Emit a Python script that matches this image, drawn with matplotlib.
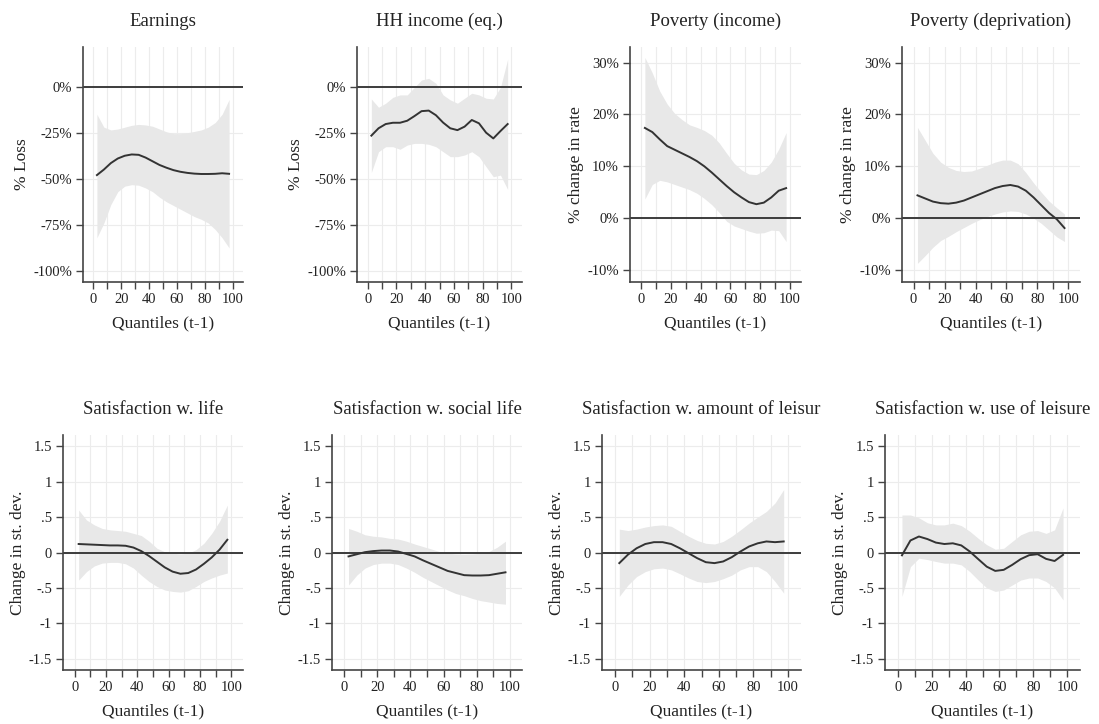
import matplotlib
matplotlib.use("Agg")
import matplotlib.pyplot as plt
from matplotlib.ticker import FixedLocator, FixedFormatter

plt.rcParams['font.family'] = ['Liberation Serif', 'DejaVu Serif']
plt.rcParams['axes.unicode_minus'] = False

# ---------------- data ----------------
quantiles = [2.5, 7.5, 12.5, 17.5, 22.5, 27.5, 32.5, 37.5, 42.5, 47.5,
             52.5, 57.5, 62.5, 67.5, 72.5, 77.5, 82.5, 87.5, 92.5, 97.5]

titles = ["Earnings", "HH income (eq.)", "Poverty (income)", "Poverty (deprivation)",
          "Satisfaction w. life", "Satisfaction w. social life",
          "Satisfaction w. amount of leisur", "Satisfaction w. use of leisure"]
ylabels = ["% Loss", "% Loss", "% change in rate", "% change in rate",
           "Change in st. dev.", "Change in st. dev.", "Change in st. dev.", "Change in st. dev."]

earn_est = [-48, -45, -41.5, -39, -37.5, -36.8, -37, -38.5, -40.5, -42.5,
            -44, -45.3, -46.2, -46.8, -47.2, -47.4, -47.4, -47.3, -47, -47.3]
earn_hi = [-15, -22, -23.5, -23, -22, -21, -20.5, -20.8, -21.5, -23,
           -24.5, -25.5, -25.5, -25, -24.3, -23.5, -22, -19.5, -15, -7]
earn_lo = [-82, -74, -64, -57, -54, -53.2, -53.5, -55, -57, -60,
           -62.5, -64.5, -66.5, -68.5, -70.5, -72, -74, -77.5, -82, -87.5]

hh_est = [-26.6, -22.6, -20.3, -19.6, -19.6, -18.5, -16, -13.3, -13, -15.5,
          -19.5, -22.6, -23.6, -21.7, -18.1, -19.9, -25, -28.1, -24.1, -20.3]
hh_hi = [-6.7, -11.2, -9, -5.8, -4.5, -4.5, -0.4, 3.6, 4.5, 1.8,
         -4.5, -7.2, -9, -6.3, -3.6, -4.5, -6.3, -6.7, -0.4, 14.9]
hh_lo = [-46.6, -35.3, -32.6, -32.6, -34, -31.7, -30.8, -30.8, -31.3, -32.6,
         -35.3, -38, -38, -37.1, -35.3, -38, -43.5, -48.9, -48, -55.8]

povi_est = [17.4, 16.6, 15.2, 13.9, 13.2, 12.5, 11.8, 11.0, 10.0, 8.8,
            7.5, 6.2, 5.0, 4.0, 3.1, 2.7, 3.0, 4.0, 5.3, 5.8]
povi_hi = [31, 28, 24.5, 22, 20.2, 19, 18, 17.5, 16.9, 16,
           14.5, 12.5, 10.6, 9.3, 8.5, 8.4, 9.2, 10.8, 13.3, 16.5]
povi_lo = [3.7, 6.5, 7.3, 7.0, 6.5, 6.0, 5.5, 4.8, 3.8, 2.6,
           1.1, -0.6, -1.5, -2.0, -2.5, -2.9, -2.8, -2.3, -2.4, -4.5]

povd_est = [4.4, 3.8, 3.2, 2.9, 2.8, 3.0, 3.4, 4.0, 4.6, 5.2,
            5.8, 6.2, 6.4, 6.1, 5.3, 4.0, 2.5, 1.0, -0.2, -1.9]
povd_hi = [17.5, 15, 12.5, 10.8, 9.8, 9.2, 9.0, 9.1, 9.6, 10.2,
           10.8, 11.2, 11.2, 10.5, 8.8, 6.8, 5.0, 3.3, 2.0, 0.8]
povd_lo = [-8.7, -7.2, -5.6, -4.3, -3.5, -2.6, -1.8, -1.0, -0.3, 0.3,
           0.8, 1.2, 1.4, 1.3, 0.8, 0.0, -1.0, -2.3, -3.6, -4.5]

life_est = [0.12, 0.115, 0.11, 0.105, 0.10, 0.10, 0.095, 0.07, 0.02, -0.05,
            -0.13, -0.21, -0.27, -0.30, -0.29, -0.24, -0.16, -0.07, 0.04, 0.18]
life_hi = [0.60, 0.46, 0.39, 0.34, 0.32, 0.31, 0.30, 0.27, 0.24, 0.16,
           0.06, 0.01, -0.01, -0.02, -0.01, 0.04, 0.13, 0.27, 0.44, 0.67]
life_lo = [-0.39, -0.27, -0.19, -0.15, -0.14, -0.14, -0.16, -0.22, -0.32, -0.41,
           -0.48, -0.53, -0.55, -0.56, -0.54, -0.48, -0.41, -0.36, -0.32, -0.29]

soc_est = [-0.055, -0.025, 0.005, 0.02, 0.028, 0.028, 0.014, -0.02, -0.055, -0.11,
           -0.16, -0.21, -0.26, -0.29, -0.32, -0.325, -0.325, -0.32, -0.30, -0.28]
soc_hi = [0.34, 0.30, 0.25, 0.23, 0.22, 0.20, 0.19, 0.16, 0.12, 0.085,
          0.05, 0.014, -0.01, -0.02, -0.024, -0.02, -0.01, 0.014, 0.075, 0.16]
soc_lo = [-0.46, -0.32, -0.22, -0.17, -0.15, -0.15, -0.17, -0.22, -0.28, -0.35,
          -0.41, -0.47, -0.53, -0.58, -0.61, -0.65, -0.68, -0.70, -0.72, -0.73]

amt_est = [-0.15, -0.03, 0.06, 0.12, 0.146, 0.146, 0.12, 0.06, -0.01, -0.08,
           -0.137, -0.15, -0.127, -0.066, 0.014, 0.085, 0.13, 0.156, 0.146, 0.156]
amt_hi = [0.33, 0.31, 0.33, 0.36, 0.38, 0.39, 0.37, 0.30, 0.23, 0.17,
          0.13, 0.12, 0.156, 0.23, 0.32, 0.415, 0.50, 0.58, 0.70, 0.89]
amt_lo = [-0.62, -0.46, -0.34, -0.27, -0.23, -0.22, -0.245, -0.30, -0.36, -0.41,
          -0.425, -0.41, -0.37, -0.32, -0.245, -0.20, -0.20, -0.27, -0.41, -0.575]

use_est = [-0.04, 0.17, 0.226, 0.19, 0.14, 0.12, 0.13, 0.10, 0.014, -0.094,
           -0.20, -0.26, -0.245, -0.175, -0.094, -0.038, -0.024, -0.09, -0.12, -0.033]
use_hi = [0.53, 0.53, 0.49, 0.42, 0.39, 0.39, 0.415, 0.38, 0.30, 0.20,
          0.11, 0.047, 0.06, 0.156, 0.25, 0.30, 0.31, 0.27, 0.32, 0.63]
use_lo = [-0.62, -0.20, -0.08, -0.10, -0.127, -0.15, -0.15, -0.175, -0.27, -0.39,
          -0.50, -0.55, -0.53, -0.46, -0.39, -0.36, -0.36, -0.41, -0.50, -0.67]

loss_ticks = [0, -25, -50, -75, -100]
loss_labels = ["0%", "-25%", "-50%", "-75%", "-100%"]
pov_ticks = [30, 20, 10, 0, -10]
pov_labels = ["30%", "20%", "10%", "0%", "-10%"]
sd_ticks = [1.5, 1, 0.5, 0, -0.5, -1, -1.5]
sd_labels = ["1.5", "1", ".5", "0", "-.5", "-1", "-1.5"]
x_major = [0, 20, 40, 60, 80, 100]
x_labels = ["0", "20", "40", "60", "80", "100"]

series = [(earn_est, earn_lo, earn_hi), (hh_est, hh_lo, hh_hi),
          (povi_est, povi_lo, povi_hi), (povd_est, povd_lo, povd_hi),
          (life_est, life_lo, life_hi), (soc_est, soc_lo, soc_hi),
          (amt_est, amt_lo, amt_hi), (use_est, use_lo, use_hi)]
yaxes = [(loss_ticks, loss_labels, (-106, 21.5)), (loss_ticks, loss_labels, (-106, 21.5)),
         (pov_ticks, pov_labels, (-12.3, 33)), (pov_ticks, pov_labels, (-12.3, 33)),
         (sd_ticks, sd_labels, (-1.66, 1.66)), (sd_ticks, sd_labels, (-1.66, 1.66)),
         (sd_ticks, sd_labels, (-1.66, 1.66)), (sd_ticks, sd_labels, (-1.66, 1.66))]

# ---------------- layout (pixels: left, right, top, bottom) ----------------
W, H = 1099, 724
boxes = [(83, 243, 47, 282), (357, 522, 47, 282), (630, 801, 47, 282), (902, 1080, 47, 282),
         (63, 243, 435, 670), (332, 522, 435, 670), (602, 801, 435, 670), (885, 1080, 435, 670)]

fig = plt.figure(figsize=(W / 100, H / 100), dpi=100)
fig.patch.set_facecolor("white")

txt = "#222222"
axc = "#444444"
for i in range(8):
    l, r, t, b = boxes[i]
    ax = fig.add_axes([l / W, 1 - b / H, (r - l) / W, (b - t) / H])
    est, lo, hi = series[i]
    ticks, labels, ylim = yaxes[i]
    ax.fill_between(quantiles, lo, hi, color="#e8e8e8", lw=0, zorder=1)
    ax.axhline(0, color="#3c3c3c", lw=1.4, zorder=2)
    ax.plot(quantiles, est, color="#333333", lw=1.4, zorder=3)
    ax.set_xlim(-7.5, 107.5)
    ax.set_ylim(*ylim)
    ax.yaxis.set_major_locator(FixedLocator(ticks))
    ax.yaxis.set_major_formatter(FixedFormatter(labels))
    ax.xaxis.set_major_locator(FixedLocator(x_major))
    ax.xaxis.set_major_formatter(FixedFormatter(x_labels))
    ax.xaxis.set_minor_locator(FixedLocator([10, 30, 50, 70, 90]))
    ax.grid(True, which="both", axis="x", color="#ececec", lw=0.8, zorder=0)
    ax.grid(True, which="major", axis="y", color="#ececec", lw=0.8, zorder=0)
    ax.set_axisbelow(True)
    for s in ["top", "right"]:
        ax.spines[s].set_visible(False)
    for s in ["left", "bottom"]:
        ax.spines[s].set_color(axc)
        ax.spines[s].set_linewidth(1.2)
    ax.tick_params(axis="both", which="both", direction="out", length=5, width=1.0,
                   color=axc, labelsize=10.5, labelcolor=txt, pad=3)
    ax.set_title(titles[i], fontsize=13.5, color=txt, pad=15)
    ax.set_xlabel("Quantiles (t-1)", fontsize=12.5, color=txt, labelpad=7)
    ax.set_ylabel(ylabels[i], fontsize=12.5, color=txt, labelpad=2)

fig.savefig("out.png", dpi=100, facecolor="white")
